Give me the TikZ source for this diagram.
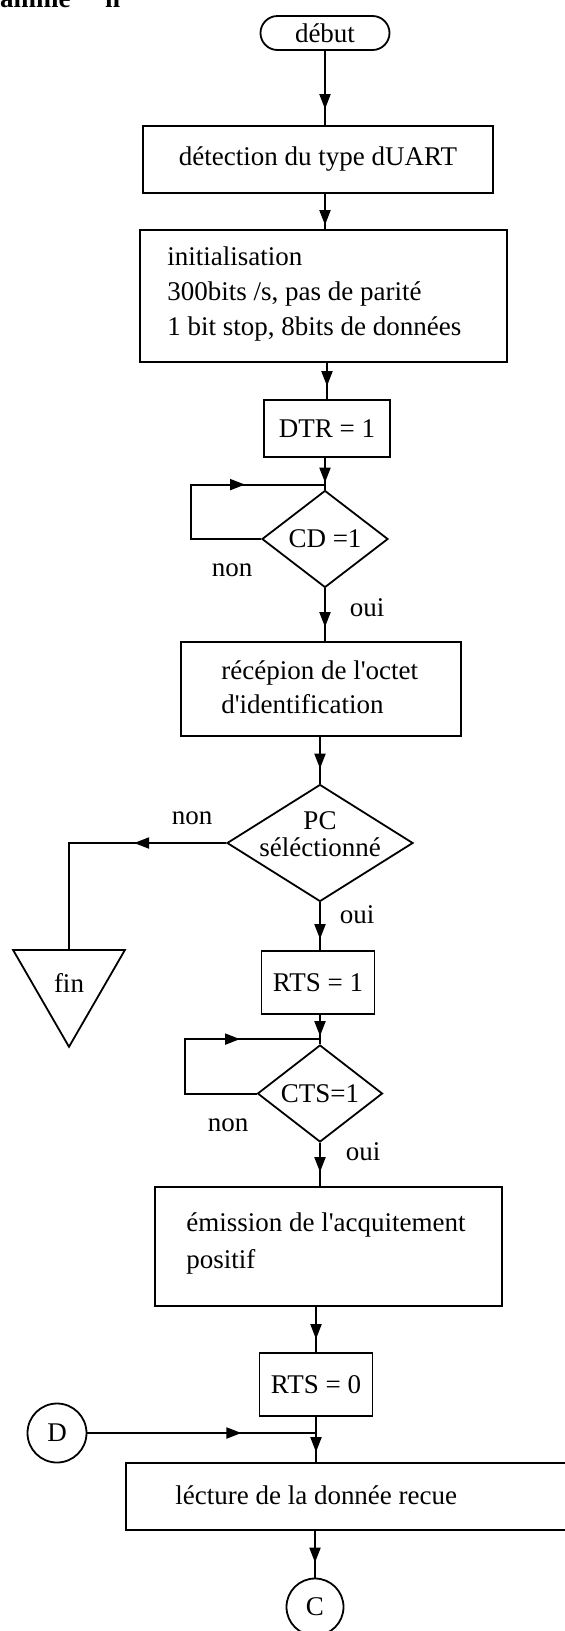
\documentclass[tikz,border=0pt]{standalone}
\usepackage{fontspec}
\setmainfont{Liberation Serif}[Ligatures=TeXOff]
\usetikzlibrary{shapes.geometric,arrows.meta,decorations.markings,calc}

\begin{document}
\begin{tikzpicture}[x=1pt,y=-1pt,
  font=\fontsize{27}{37}\selectfont,
  box/.style={draw, line width=1.8pt, inner sep=0pt},
  dia/.style={draw, diamond, line width=1.8pt, inner sep=0pt},
  txt/.style={inner sep=0pt, align=left},
  lbl/.style={inner sep=0pt},
  conn/.style={line width=2pt},
  arrowat/.style={decoration={markings,
      mark=at position #1 with {\arrow{Triangle[width=11pt,length=15pt]}}},
    postaction={decorate}},
  arrowat/.default=-11pt,
]
\useasboundingbox (0,0) rectangle (565,1631);

% heading fragment at the top edge
\node[anchor=base west, inner sep=0pt, font=\bfseries\fontsize{27}{30}\selectfont] (hdra) at (0,7) {amme};
\node[anchor=base west, inner sep=0pt, font=\bfseries\fontsize{27}{30}\selectfont] (hdrb) at (105,7) {n};

% start
\node[box, rounded corners=17pt, minimum width=129pt, minimum height=34pt] (debut) at (325,33) {début};

% UART detection
\node[box, minimum width=350pt, minimum height=67pt] (detect) at (318,159.5) {détection du type dUART};

% initialisation
\node[box, minimum width=367pt, minimum height=132pt] (init) at (323.5,296) {};
\node[txt, anchor=west] (inittxt) at ($(init.west)+(28,-2)$)
  {initialisation\\[-2pt]300bits /s, pas de parité\\[-2pt]1 bit stop, 8bits de données};

% DTR
\node[box, minimum width=126pt, minimum height=57pt] (dtr) at (327,428.5) {DTR = 1};

% wait for CD
\node[dia, minimum width=126pt, minimum height=97pt] (cd) at (325,539) {};
\node[lbl] (cdtxt) at (cd) {CD =1};
\coordinate (cdj) at ($(cd.north)+(0,-5)$);
\node[lbl] (cdno) at (232,570) {non};
\node[lbl] (cdyes) at (367,608) {oui};

% identification byte
\node[box, minimum width=280pt, minimum height=94pt] (recep) at (321,689) {};
\node[txt, anchor=west] (receptxt) at ($(recep.west)+(41,-2)$)
  {récépion de l'octet\\[-3pt]d'identification};

% PC selected ?
\node[dia, minimum width=186pt, minimum height=117pt] (pc) at (320,843) {};
\node[lbl, align=center] (pctxt) at (320,834) {PC\\[-10pt]séléctionné};
\node[lbl] (pcno) at (192,818) {non};
\node[lbl] (pcyes) at (357,915) {oui};

% end
\node[draw, regular polygon, regular polygon sides=3, shape border rotate=180,
  minimum size=129pt, inner sep=0pt, line width=1.8pt] (fin) at (69,982.3) {};
\node[lbl] (fintxt) at (69,983) {fin};

% RTS = 1
\node[box, minimum width=113pt, minimum height=63pt] (rtsa) at (318,982.5) {RTS = 1};

% wait for CTS
\node[dia, minimum width=125pt, minimum height=97pt] (cts) at (320,1093.5) {};
\node[lbl] (ctstxt) at (cts) {CTS=1};
\coordinate (ctsj) at ($(cts.north)+(0,-5)$);
\node[lbl] (ctsno) at (228,1125) {non};
\node[lbl] (ctsyes) at (363,1152) {oui};

% acknowledgement
\node[box, minimum width=347pt, minimum height=119pt] (emis) at (328.5,1246.5) {};
\node[txt, anchor=west] (emistxt) at ($(emis.west)+(32,-3)$)
  {émission de l'acquitement\\positif};

% RTS = 0
\node[box, minimum width=113pt, minimum height=63pt] (rtsb) at (316,1384.5) {RTS = 0};

% connectors D and C
\node[draw, circle, minimum size=59pt, inner sep=0pt, line width=1.8pt] (d) at (57,1433) {D};
\node[draw, circle, minimum size=57pt, inner sep=0pt, line width=1.8pt] (c) at (315,1607) {C};

% read received data
\node[box, minimum width=474pt, minimum height=67pt] (lect) at (363,1496.5) {};
\node[txt, anchor=west] (lecttxt) at ($(lect.west)+(50,-1)$) {lécture de la donnée recue};

% flow
\draw[conn, arrowat=-16pt] (debut.south) -- (debut.south |- detect.north);
\draw[conn, arrowat=-4pt] (debut.south |- detect.south) -- (debut.south |- init.north);
\draw[conn, arrowat=-13pt] (dtr.north |- init.south) -- (dtr.north);
\draw[conn, arrowat=-7pt] (cd.north |- dtr.south) -- (cd.north);
\draw[conn, arrowat=-80pt] (cd.west) -- ++(-70,0) |- (cdj);
\draw[conn, arrowat=-14pt] (cd.south) -- (cd.south |- recep.north);
\draw[conn, arrowat=-15pt] (pc.north |- recep.south) -- (pc.north);
\draw[conn, arrowat=92pt] (pc.west) -| (fin.north);
\draw[conn, arrowat=-11pt] (pc.south) -- (pc.south |- rtsa.north);
\draw[conn, arrowat=-8pt] (cts.north |- rtsa.south) -- (cts.north);
\draw[conn, arrowat=-80pt] (cts.west) -- ++(-72,0) |- (ctsj);
\draw[conn, arrowat=-14pt] (cts.south) -- (cts.south |- emis.north);
\draw[conn, arrowat=-13pt] (rtsb.north |- emis.south) -- (rtsb.north);
\draw[conn, arrowat=-10pt] (rtsb.south) -- (rtsb.south |- lect.north);
\draw[conn, arrowat=154pt] (d.east) -- (d.east -| rtsb.south);
\draw[conn, arrowat=-15pt] (c.north |- lect.south) -- (c.north);
\end{tikzpicture}
\end{document}
